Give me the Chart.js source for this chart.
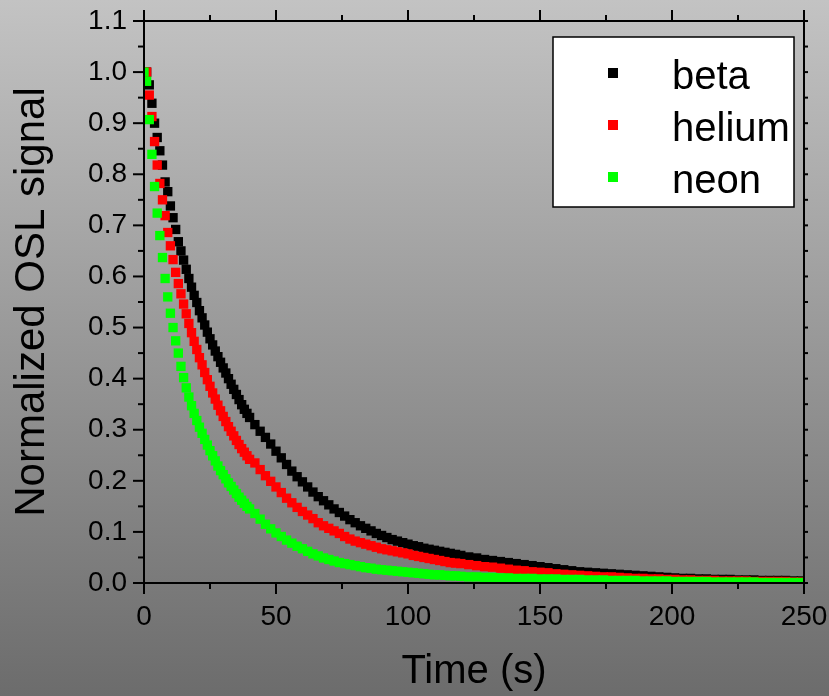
<!DOCTYPE html>
<html>
<head>
<meta charset="utf-8">
<script src="https://cdn.jsdelivr.net/npm/chart.js@4.4.1/dist/chart.umd.min.js"></script>
<style>
  html,body{margin:0;padding:0;background:#999;}
  #wrap{width:829px;height:696px;}
</style>
</head>
<body>
<div id="wrap"><canvas id="chart" width="829" height="696"></canvas></div>
<script>
/* OSL decay curves: beta / helium / neon, normalized */
const FONT="'Liberation Sans', Arial, sans-serif";

const times=[0,1,2,3,4,5,6,7,8,9,10,11,12,13,14,15,16,17,18,19,20,21,22,23,24,25,26,27,28,29,30,31,32,33,34,35,36,37,38,39,40,
42,44,46,48,50,52,54,56,58,60,62,64,66,68,70,72,74,76,78,80,82,84,86,88,90,92,94,96,98,100,102,104,106,108,110,112,114,116,118,120,
123,126,129,132,135,138,141,144,147,150,153,156,159,162,165,168,171,174,177,180,183,186,189,192,195,198,201,204,207,210,213,216,219,222,225,228,231,234,237,240,243,246,249];

const beta=[1.000,1.000,.975,.939,.900,.872,.846,.818,.785,.766,.738,.715,.692,.668,.650,.632,.614,.596,.579,.563,.549,
.533,.519,.505,.491,.478,.466,.454,.443,.432,.421,.411,.400,.389,.379,.369,.359,.349,.340,.332,.324,
.310,.297,.285,.272,.258,.245,.232,.219,.208,.198,.188,.178,.169,.161,.153,.145,.138,.131,.124,.118,
.112,.107,.102,.097,.093,.089,.085,.082,.079,.076,.073,.071,.068,.066,.064,.062,.060,.058,.056,.054,
.051,.049,.046,.044,.042,.040,.038,.036,.034,.032,.030,.028,.026,.024,.022,.021,.020,.019,.018,.017,
.016,.015,.014,.013,.012,.011,.010,.009,.009,.008,.008,.007,.007,.007,.006,.006,.006,.005,.005,.005,.005,.004,.004];

const helium=[1.000,1.000,.955,.913,.864,.818,.782,.750,.719,.686,.660,.633,.608,.586,.566,.546,.527,.508,.490,.473,.457,
.441,.427,.412,.398,.385,.372,.360,.348,.337,.326,.316,.306,.297,.288,.279,.271,.263,.256,.249,.242,
.235,.222,.210,.199,.188,.177,.166,.157,.148,.140,.133,.126,.118,.112,.107,.102,.097,.091,.086,.082,
.079,.076,.073,.070,.067,.065,.063,.061,.059,.057,.054,.052,.050,.048,.046,.044,.042,.040,.039,.038,
.036,.034,.032,.031,.029,.027,.025,.024,.022,.021,.020,.018,.017,.016,.015,.014,.013,.012,.012,.011,
.010,.009,.009,.008,.008,.007,.007,.006,.006,.005,.005,.005,.004,.004,.004,.004,.003,.003,.003,.003,.003,.002,.002];

const neon=[1.000,.982,.907,.839,.776,.724,.680,.637,.596,.560,.528,.500,.474,.450,.424,.402,.382,.364,.347,.332,.318,
.305,.293,.281,.270,.259,.249,.239,.229,.220,.212,.204,.196,.189,.182,.175,.168,.162,.156,.150,.145,
.136,.125,.115,.106,.098,.091,.084,.078,.072,.067,.062,.057,.053,.049,.046,.043,.040,.038,.036,.034,
.032,.030,.029,.027,.026,.025,.024,.023,.022,.021,.020,.019,.018,.017,.016,.016,.015,.014,.014,.013,
.012,.012,.011,.011,.010,.010,.009,.009,.009,.008,.008,.008,.007,.007,.007,.006,.006,.006,.005,.005,
.005,.005,.004,.004,.004,.004,.003,.003,.003,.003,.003,.002,.002,.002,.002,.002,.002,.001,.001,.001,.001,.001,.001];

const seriesNames=["beta","helium","neon"];
const seriesColors=["#000000","#ff0000","#00ff00"];
const xMajor=[0,50,100,150,200,250], xMinor=[25,75,125,175,225];
const yMajor=[0,.1,.2,.3,.4,.5,.6,.7,.8,.9,1.0,1.1];
const yMinor=[.05,.15,.25,.35,.45,.55,.65,.75,.85,.95,1.05];

const pts=v=>times.map((t,i)=>({x:t,y:v[i]}));

const bgPlugin={id:"bg",beforeDraw(c){const g=c.ctx.createLinearGradient(0,0,0,c.height);
  g.addColorStop(0,"#c3c3c3");g.addColorStop(1,"#6c6c6c");c.ctx.save();c.ctx.fillStyle=g;c.ctx.fillRect(0,0,c.width,c.height);c.ctx.restore();}};

const framePlugin={id:"frame",afterDatasetsDraw(c){
  const ctx=c.ctx,a=c.chartArea,xs=c.scales.x,ys=c.scales.y;
  ctx.save();ctx.strokeStyle="#000";ctx.lineWidth=2;ctx.lineCap="butt";
  ctx.strokeRect(a.left,a.top,a.right-a.left,a.bottom-a.top);
  const ln=(x1,y1,x2,y2)=>{ctx.beginPath();ctx.moveTo(x1,y1);ctx.lineTo(x2,y2);ctx.stroke();};
  xMajor.forEach(v=>{const p=xs.getPixelForValue(v);ln(p,a.bottom,p,a.bottom+11);ln(p,a.top,p,a.top-11);});
  xMinor.forEach(v=>{const p=xs.getPixelForValue(v);ln(p,a.bottom,p,a.bottom+6);ln(p,a.top,p,a.top-6);});
  yMajor.forEach(v=>{const p=ys.getPixelForValue(v);ln(a.left,p,a.left-11,p);ln(a.right,p,a.right+4,p);});
  yMinor.forEach(v=>{const p=ys.getPixelForValue(v);ln(a.left,p,a.left-6,p);ln(a.right,p,a.right+4,p);});
  ctx.restore();
}};

const legendPlugin={id:"box",afterDraw(c){
  const ctx=c.ctx,a=c.chartArea;
  const bx=a.right-251,by=a.top+16,bw=241,bh=170;
  ctx.save();ctx.fillStyle="#fff";ctx.fillRect(bx,by,bw,bh);
  ctx.strokeStyle="#000";ctx.lineWidth=1.5;ctx.strokeRect(bx,by,bw,bh);
  ctx.font="40px "+FONT;ctx.textBaseline="alphabetic";ctx.textAlign="left";
  c.data.datasets.forEach((d,i)=>{const yb=by+52+i*52;
    ctx.fillStyle=d.backgroundColor;ctx.fillRect(bx+55,yb-21,10,10);
    ctx.fillStyle="#000";ctx.fillText(d.label,bx+119,yb);});
  ctx.restore();
}};

new Chart(document.getElementById("chart"),{
  type:"scatter",
  data:{datasets:[
    {label:seriesNames[0],data:pts(beta),backgroundColor:seriesColors[0],order:3},
    {label:seriesNames[1],data:pts(helium),backgroundColor:seriesColors[1],order:2},
    {label:seriesNames[2],data:pts(neon),backgroundColor:seriesColors[2],order:1}
  ].map(d=>Object.assign(d,{showLine:false,pointStyle:"rect",pointRadius:6.6,pointHoverRadius:6.6,borderWidth:0,borderColor:d.backgroundColor,clip:0}))},
  options:{
    responsive:false,animation:false,
    layout:{padding:{top:21,right:25,left:0,bottom:0}},
    plugins:{legend:{display:false},tooltip:{enabled:false}},
    scales:{
      x:{type:"linear",min:0,max:250,
        grid:{display:false,drawTicks:false},border:{display:false},
        ticks:{stepSize:50,color:"#000",font:{family:FONT,size:28},padding:17,maxRotation:0,autoSkip:false},
        title:{display:true,text:"Time (s)",color:"#000",font:{family:FONT,size:40},padding:{top:0,bottom:0}},
        afterFit(s){s.height=113;s.paddingLeft=0;s.paddingRight=0;}},
      y:{type:"linear",min:0,max:1.1,
        grid:{display:false,drawTicks:false},border:{display:false},
        ticks:{stepSize:0.1,color:"#000",font:{family:FONT,size:28},padding:17,autoSkip:false,callback:v=>v.toFixed(1)},
        title:{display:true,text:"Normalized OSL signal",color:"#000",font:{family:FONT,size:42},padding:{top:7,bottom:0}},
        afterFit(s){s.width=144;s.paddingTop=0;s.paddingBottom=0;}}
    }
  },
  plugins:[bgPlugin,framePlugin,legendPlugin]
});
</script>
</body>
</html>
